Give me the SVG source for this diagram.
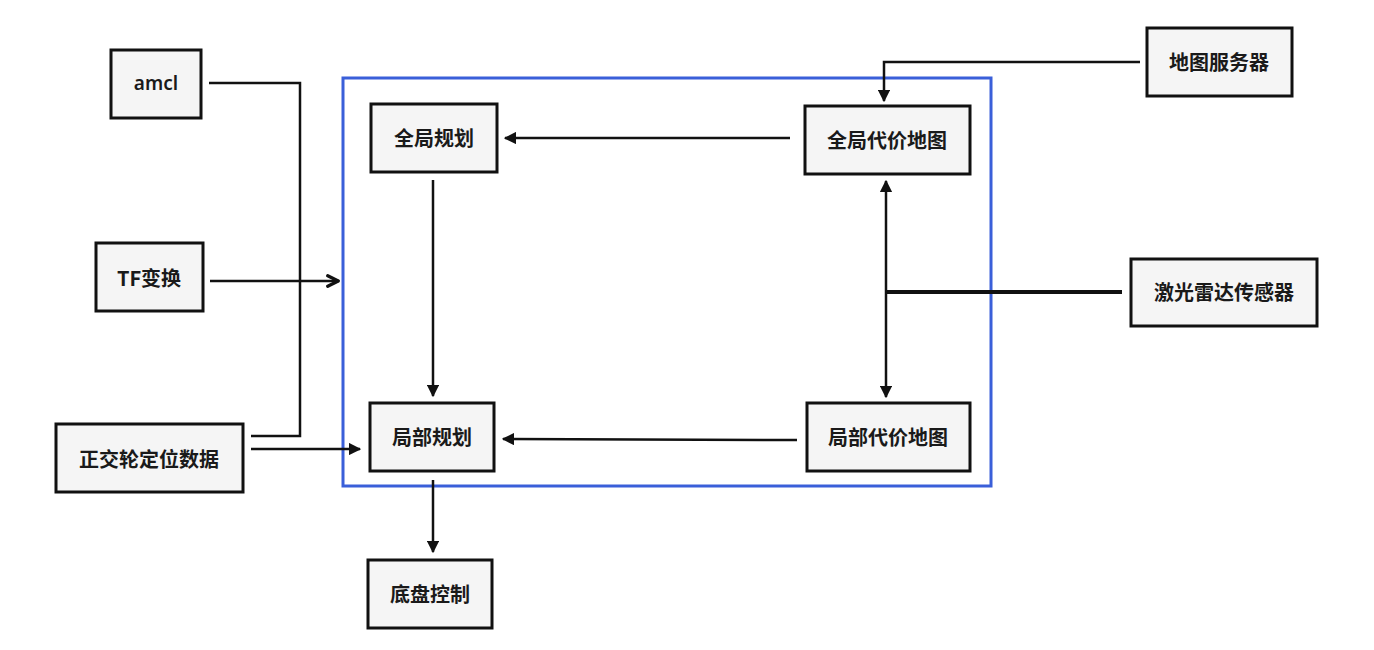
<svg xmlns="http://www.w3.org/2000/svg" width="1374" height="650" viewBox="0 0 1374 650">
  <style>
    .box { fill: #f5f5f5; stroke: #111; stroke-width: 3; }
    .lbl { font-family: "Noto Sans CJK SC", "Noto Sans", sans-serif; font-size: 20px; font-weight: bold; fill: #1a1a1a; text-anchor: middle; dominant-baseline: central; }
    .wire { fill: none; stroke: #111; stroke-width: 2.5; }
    .thick { fill: none; stroke: #111; stroke-width: 4; }
  </style>
  <defs>
    <marker id="tri" viewBox="0 0 10 10" refX="9" refY="5" markerWidth="5" markerHeight="5" orient="auto" markerUnits="strokeWidth">
      <path d="M0,0 L10,5 L0,10 z" fill="#111"/>
    </marker>
    <marker id="chev" viewBox="0 0 10 10" refX="9" refY="5" markerWidth="6" markerHeight="6" orient="auto" markerUnits="strokeWidth">
      <path d="M1.5,1.5 L8.5,5 L1.5,8.5" fill="none" stroke="#111" stroke-width="2.2" stroke-linecap="round" stroke-linejoin="round"/>
    </marker>
  </defs>
  <rect width="1374" height="650" fill="#fff"/>

  <!-- navigation stack frame -->
  <rect x="343" y="78" width="648" height="408" fill="none" stroke="#3a5fd9" stroke-width="3"/>

  <g id="connectors">
    <!-- amcl and wheel odometry merge into the frame -->
    <polyline class="wire" points="209,83 300,83 300,436 251,436"/>
    <line class="wire" x1="210" y1="281" x2="339" y2="281" stroke-width="3" marker-end="url(#chev)"/>
    <line class="wire" x1="251" y1="449" x2="360" y2="449" marker-end="url(#tri)"/>
    <!-- map server to global costmap -->
    <polyline class="wire" points="1140,62 884,62 884,101" marker-end="url(#tri)"/>
    <!-- global costmap to global planner -->
    <line class="wire" x1="790" y1="138" x2="505" y2="138" marker-end="url(#tri)"/>
    <!-- laser sensor feeding both costmaps -->
    <line class="thick" x1="1122" y1="292" x2="886" y2="292"/>
    <line class="wire" x1="886" y1="292" x2="886" y2="181" marker-end="url(#tri)"/>
    <line class="wire" x1="886" y1="292" x2="886" y2="397" marker-end="url(#tri)"/>
    <!-- local costmap to local planner -->
    <line class="wire" x1="797" y1="440" x2="503" y2="439" marker-end="url(#tri)"/>
    <!-- planners and chassis -->
    <line class="wire" x1="433" y1="180" x2="433" y2="396" marker-end="url(#tri)"/>
    <line class="wire" x1="433" y1="480" x2="433" y2="552" marker-end="url(#tri)"/>
  </g>

  <g id="amcl">
    <rect class="box" x="111" y="50" width="90" height="68"/>
    <text class="lbl" x="156" y="83" style="font-family:'Noto Sans','Open Sans',sans-serif;font-size:19px;font-weight:600">amcl</text>
  </g>
  <g id="tf">
    <rect class="box" x="96" y="243" width="107" height="68"/>
    <text class="lbl" x="149" y="277">TF变换</text>
  </g>
  <g id="odom">
    <rect class="box" x="56" y="424" width="187" height="68"/>
    <text class="lbl" x="149" y="458">正交轮定位数据</text>
  </g>
  <g id="global-planner">
    <rect class="box" x="371" y="104" width="126" height="68"/>
    <text class="lbl" x="434" y="137">全局规划</text>
  </g>
  <g id="local-planner">
    <rect class="box" x="370" y="403" width="124" height="68"/>
    <text class="lbl" x="432" y="436">局部规划</text>
  </g>
  <g id="chassis">
    <rect class="box" x="368" y="560" width="124" height="68"/>
    <text class="lbl" x="430" y="593">底盘控制</text>
  </g>
  <g id="global-costmap">
    <rect class="box" x="805" y="106" width="165" height="68"/>
    <text class="lbl" x="887" y="139">全局代价地图</text>
  </g>
  <g id="local-costmap">
    <rect class="box" x="807" y="403" width="163" height="68"/>
    <text class="lbl" x="888" y="436">局部代价地图</text>
  </g>
  <g id="map-server">
    <rect class="box" x="1147" y="28" width="145" height="68"/>
    <text class="lbl" x="1219" y="61">地图服务器</text>
  </g>
  <g id="laser">
    <rect class="box" x="1131" y="259" width="186" height="67"/>
    <text class="lbl" x="1224" y="291">激光雷达传感器</text>
  </g>
</svg>
